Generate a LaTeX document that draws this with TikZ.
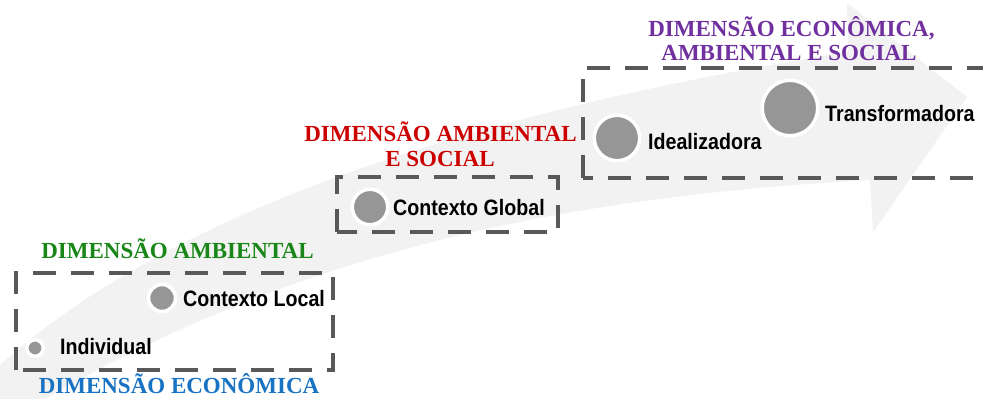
\documentclass[tikz,border=0pt]{standalone}
\usepackage{fontspec}
\newfontfamily\lblfont[FakeStretch=0.88]{Liberation Sans}
\newfontfamily\ttlfont{Liberation Serif}
\definecolor{bandgrey}{RGB}{242,242,242}
\definecolor{dotgrey}{RGB}{150,150,150}
\definecolor{dashgrey}{RGB}{89,89,89}
\definecolor{dimgreen}{RGB}{24,135,24}
\definecolor{dimblue}{RGB}{25,115,195}
\definecolor{dimred}{RGB}{204,0,0}
\definecolor{dimpurple}{RGB}{112,48,160}
\tikzset{
  stagebox/.style={draw=dashgrey, line width=4pt, dash pattern=on 23pt off 15pt},
  stagedot/.style={circle, fill=dotgrey, draw=white, line width=3.5pt, inner sep=0pt, minimum size=#1},
  lbl/.style={anchor=base west, inner sep=0pt, font=\lblfont\bfseries\fontsize{22.3}{26}\selectfont},
  ttl/.style={anchor=base, inner sep=0pt, text=#1, font=\ttlfont\bfseries\fontsize{23}{26}\selectfont},
}
\begin{document}
\begin{tikzpicture}[x=1pt,y=-1pt]
\useasboundingbox (0,0) rectangle (983,399);
\clip (0,0) rectangle (983,399);
\fill[white] (0,0) rectangle (983,399);

% rising curved band with arrow head
\fill[bandgrey] (0,365) .. controls (150,230) and (420,120) .. (848,52)
  -- (847,3) -- (967,97) -- (873,232) -- (870,180)
  .. controls (600,195) and (300,240) .. (10,420) -- (0,420) -- cycle;

% dashed stage frames
\draw[stagebox] (16,370) rectangle (333,273);
\draw[stagebox] (337,232) rectangle (558,177);
\draw[stagebox] (583,178) rectangle (1010,68);

% stage markers
\node[stagedot=16.5pt] (individual) at (35,348) {};
\node[stagedot=27pt] (local) at (162,298) {};
\node[stagedot=35.5pt] (global) at (370,207) {};
\node[stagedot=45.5pt] (ideal) at (617,138) {};
\node[stagedot=55.5pt] (transf) at (790,108) {};

% marker labels
\node[lbl] (t-ind) at (60,354) {Individual};
\node[lbl] (t-loc) at (183,306) {Contexto Local};
\node[lbl] (t-glo) at (393,215) {Contexto Global};
\node[lbl] (t-ide) at (648,149) {Idealizadora};
\node[lbl] (t-tra) at (825,121) {Transformadora};

% dimension titles
\node[ttl=dimgreen] (d-amb) at (177.5,258) {DIMENSÃO AMBIENTAL};
\node[ttl=dimblue] (d-eco) at (179,393.5) {DIMENSÃO ECONÔMICA};
\node[ttl=dimred] (d-as1) at (440.5,141.7) {DIMENSÃO AMBIENTAL};
\node[ttl=dimred] (d-as2) at (440,166.7) {E SOCIAL};
\node[ttl=dimpurple] (d-eas1) at (791.5,36) {DIMENSÃO ECONÔMICA,};
\node[ttl=dimpurple] (d-eas2) at (789,60.7) {AMBIENTAL E SOCIAL};
\end{tikzpicture}
\end{document}
